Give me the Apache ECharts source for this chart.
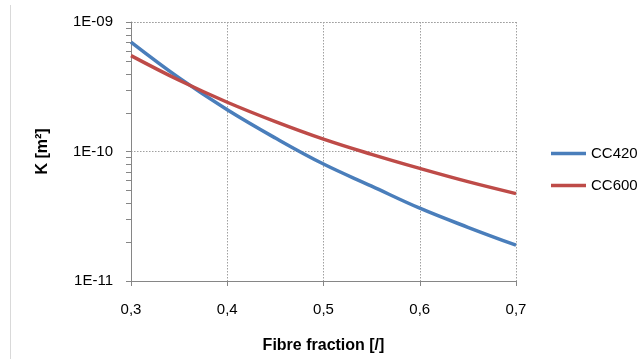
<!DOCTYPE html>
<html>
<head>
<meta charset="utf-8">
<script src="https://cdn.jsdelivr.net/npm/echarts@6/dist/echarts.min.js"></script>
<style>html,body{margin:0;padding:0;background:#fff}#c{width:641px;height:359px}</style>
</head>
<body>
<div id="c"></div>
<script>
var fibreFraction = [0.30, 0.35, 0.40, 0.45, 0.50, 0.55, 0.60, 0.65, 0.70];
var cc420 = [7.0e-10, 3.7e-10, 2.1e-10, 1.27e-10, 8.0e-11, 5.4e-11, 3.65e-11, 2.6e-11, 1.89e-11];
var cc600 = [5.5e-10, 3.55e-10, 2.4e-10, 1.7e-10, 1.245e-10, 9.5e-11, 7.4e-11, 5.85e-11, 4.73e-11];
var seriesNames = ['CC420', 'CC600'];
var xTickLabels = ['0,3', '0,4', '0,5', '0,6', '0,7'];
var yTickLabels = ['1E-11', '1E-10', '1E-09'];
var minorTickValues = [2e-11,3e-11,4e-11,5e-11,6e-11,7e-11,8e-11,9e-11,2e-10,3e-10,4e-10,5e-10,6e-10,7e-10,8e-10,9e-10];

var font = 'Liberation Sans';
function pairs(ys){ return fibreFraction.map(function(x,i){ return [x, ys[i]]; }); }

var chart = echarts.init(document.getElementById('c'), null, {renderer:'canvas'});
chart.setOption({
  animation: false,
  backgroundColor: '#fff',
  grid: {left: 131, right: 125, top: 22, bottom: 77, containLabel: false},
  legend: {
    orient: 'vertical', left: 551, top: 145, itemWidth: 35, itemHeight: 3.5, itemGap: 15,
    icon: 'rect', padding: 0,
    data: seriesNames,
    textStyle: {fontFamily: font, fontSize: 15, color: '#000', lineHeight: 17}
  },
  xAxis: {
    type: 'value', min: 0.3, max: 0.7, interval: 0.1,
    name: 'Fibre fraction [/]', nameLocation: 'middle', nameGap: 57,
    nameTextStyle: {fontFamily: font, fontSize: 16, fontWeight: 'bold', color: '#000'},
    axisLine: {lineStyle: {color: '#868686', width: 1}},
    axisTick: {show: true, length: 5, lineStyle: {color: '#868686'}},
    axisLabel: {fontFamily: font, fontSize: 15, color: '#000', margin: 21,
      formatter: function(v){ return xTickLabels[Math.round((v - 0.3) * 10)]; }},
    splitLine: {show: true, lineStyle: {color: '#a0a0a0', type: [1.5, 1.5], width: 1}}
  },
  yAxis: {
    type: 'log', logBase: 10, min: 1e-11, max: 1e-9,
    name: 'K [m²]', nameLocation: 'middle', nameGap: 80,
    nameTextStyle: {fontFamily: font, fontSize: 16, fontWeight: 'bold', color: '#000'},
    axisLine: {show: true, lineStyle: {color: '#868686', width: 1}},
    axisTick: {show: true, length: 5, lineStyle: {color: '#868686'}},
    axisLabel: {fontFamily: font, fontSize: 15, color: '#000', margin: 18,
      formatter: function(v){ return yTickLabels[Math.round(Math.log10(v)) + 11]; }},
    splitLine: {show: true, lineStyle: {color: '#a0a0a0', type: [1.5, 1.5], width: 1}}
  },
  series: [
    {name: seriesNames[0], type: 'line', data: pairs(cc420), smooth: 0.4, symbol: 'none',
      lineStyle: {color: '#4A7EBB', width: 3.5}, itemStyle: {color: '#4A7EBB'}, z: 3},
    {name: seriesNames[1], type: 'line', data: pairs(cc600), smooth: 0.4, symbol: 'none',
      lineStyle: {color: '#BE4B48', width: 3.5}, itemStyle: {color: '#BE4B48'}, z: 4},
    {type: 'custom', silent: true, clip: false, z: 2,
      data: minorTickValues.map(function(v){ return [0.3, v]; }),
      renderItem: function(params, api){
        var p = api.coord([api.value(0), api.value(1)]);
        return {type: 'line', shape: {x1: p[0] - 5, y1: Math.round(p[1]) + 0.5, x2: p[0], y2: Math.round(p[1]) + 0.5},
          style: {stroke: '#868686', lineWidth: 1}};
      }}
  ],
  graphic: [
    {type: 'line', shape: {x1: 10.5, y1: 5, x2: 10.5, y2: 359}, style: {stroke: '#d9d9d9', lineWidth: 1}}
  ]
});
</script>
</body>
</html>
